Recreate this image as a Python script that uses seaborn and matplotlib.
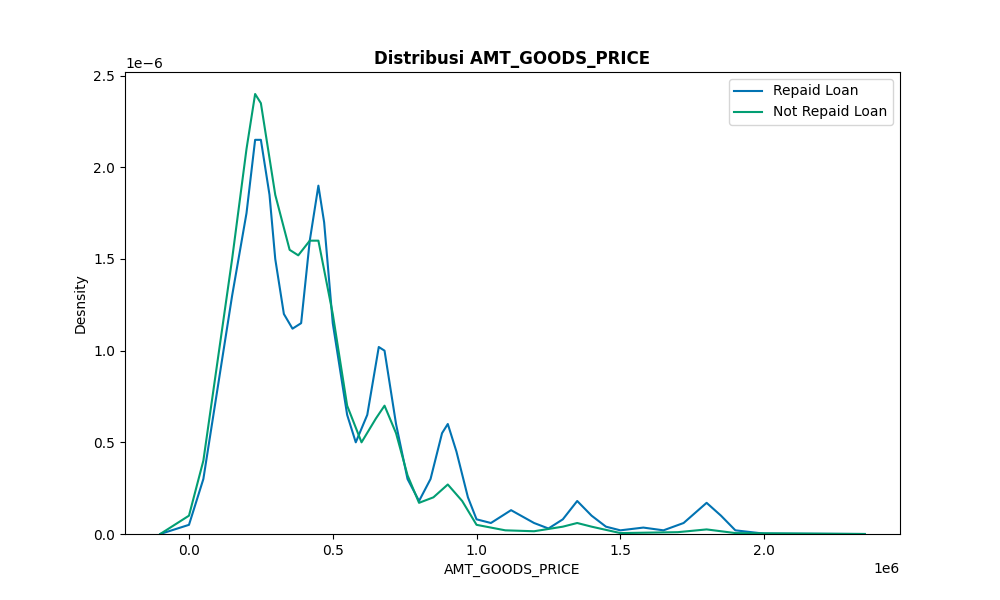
import numpy as np
import pandas as pd
import matplotlib
matplotlib.use("Agg")
import matplotlib.pyplot as plt
import seaborn as sns

# Density curves (x in 1e6, density in 1e-6)
repaid_x = [-0.1, 0.0, 0.05, 0.1, 0.15, 0.2, 0.23, 0.25, 0.28, 0.3, 0.33, 0.36, 0.39, 0.42,
            0.45, 0.47, 0.5, 0.55, 0.58, 0.62, 0.66, 0.68, 0.72, 0.76, 0.8, 0.84, 0.88, 0.9,
            0.93, 0.97, 1.0, 1.05, 1.12, 1.2, 1.25, 1.3, 1.35, 1.4, 1.45, 1.5, 1.58, 1.65,
            1.72, 1.8, 1.85, 1.9, 2.0, 2.35]
repaid_y = [0.0, 0.05, 0.3, 0.8, 1.3, 1.75, 2.15, 2.15, 1.85, 1.5, 1.2, 1.12, 1.15, 1.6,
            1.9, 1.7, 1.15, 0.65, 0.5, 0.65, 1.02, 1.0, 0.6, 0.3, 0.18, 0.3, 0.55, 0.6,
            0.45, 0.2, 0.08, 0.06, 0.13, 0.06, 0.03, 0.08, 0.18, 0.1, 0.04, 0.02, 0.035, 0.02,
            0.06, 0.17, 0.1, 0.02, 0.002, 0.0]
notrepaid_x = [-0.1, 0.0, 0.05, 0.1, 0.15, 0.2, 0.23, 0.25, 0.3, 0.35, 0.38, 0.42, 0.45,
               0.5, 0.55, 0.6, 0.65, 0.68, 0.72, 0.76, 0.8, 0.85, 0.9, 0.95, 1.0, 1.1, 1.2,
               1.3, 1.35, 1.4, 1.5, 1.7, 1.8, 1.9, 2.35]
notrepaid_y = [0.0, 0.1, 0.4, 0.95, 1.5, 2.1, 2.4, 2.35, 1.85, 1.55, 1.52, 1.6, 1.6,
               1.2, 0.7, 0.5, 0.63, 0.7, 0.55, 0.32, 0.17, 0.2, 0.27, 0.18, 0.05, 0.02, 0.015,
               0.04, 0.06, 0.04, 0.005, 0.01, 0.025, 0.005, 0.0]

df = pd.concat([
    pd.DataFrame({"x": np.array(repaid_x) * 1e6, "y": np.array(repaid_y) * 1e-6, "s": "Repaid Loan"}),
    pd.DataFrame({"x": np.array(notrepaid_x) * 1e6, "y": np.array(notrepaid_y) * 1e-6, "s": "Not Repaid Loan"}),
])

fig, ax = plt.subplots(figsize=(10, 6), dpi=100)
sns.lineplot(data=df, x="x", y="y", hue="s", palette=["#0173b2", "#029e73"], ax=ax, sort=False)
ax.set_ylim(0, None)
ax.set_title("Distribusi AMT_GOODS_PRICE", fontweight="bold")
ax.set_xlabel("AMT_GOODS_PRICE")
ax.set_ylabel("Desnsity")
ax.legend(title=None, loc="upper right")
fig.savefig("out.png")
